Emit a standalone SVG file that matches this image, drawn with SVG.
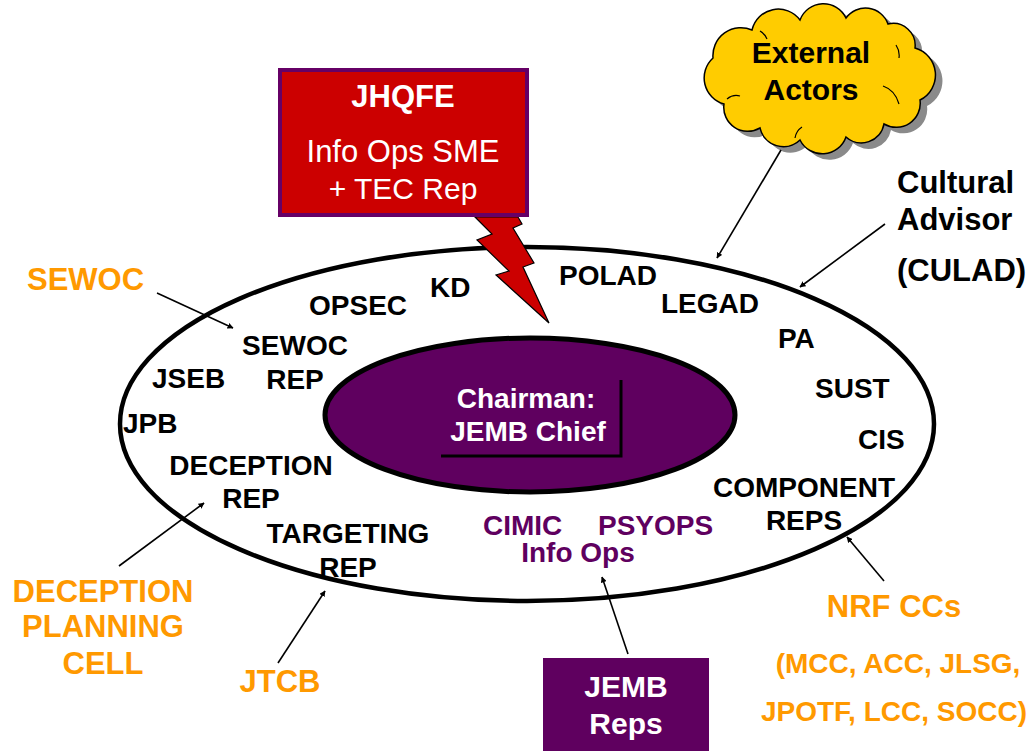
<svg xmlns="http://www.w3.org/2000/svg" width="1034" height="751" viewBox="0 0 1034 751">
  <defs>
    <marker id="arrowhead" viewBox="0 0 10 10" refX="9" refY="5" markerWidth="6" markerHeight="6" markerUnits="userSpaceOnUse" orient="auto">
      <path d="M0,0 L10,5 L0,10 Z" fill="#000"/>
    </marker>
    <path id="cloud-shape" d="M713,58 A28,28 0 0 1 752,30 A27,27 0 0 1 800,20 A25,25 0 0 1 846,18 A24,24 0 0 1 888,24 A22,22 0 0 1 915,48 A28,28 0 0 1 920,100 A24,24 0 0 1 884,124 A23,23 0 0 1 846,137 A25,25 0 0 1 800,140 A24,24 0 0 1 760,128 A24,24 0 0 1 724,104 A27,27 0 0 1 713,58 Z"/>
  </defs>
  <style>
    text { font-family: "Liberation Sans", Arial, sans-serif; font-weight: bold; }
    .lbl { font-size: 28px; fill: #000; }
    .ext { font-size: 31px; fill: #000; }
    .org { font-size: 31px; fill: #FF9900; }
    .org-sm { font-size: 28px; fill: #FF9900; }
    .pur { font-size: 28px; fill: #5F005F; }
    .wht { fill: #fff; }
    .mid { text-anchor: middle; }
    .conn { stroke: #000; stroke-width: 1.6; fill: none; marker-end: url(#arrowhead); }
  </style>

  <rect width="1034" height="751" fill="#fff"/>

  <!-- outer board ring -->
  <g id="board">
    <ellipse cx="527" cy="424" rx="407" ry="177" fill="#fff" stroke="#000" stroke-width="4.5"/>
  </g>

  <!-- chairman core -->
  <g id="chairman">
    <ellipse cx="530" cy="415" rx="205" ry="77" fill="#5F005F" stroke="#000" stroke-width="5"/>
    <polyline points="441,456 621,456 621,380" fill="none" stroke="#000" stroke-width="3"/>
    <text class="lbl wht mid" x="526" y="408">Chairman:</text>
    <text class="lbl wht mid" x="528" y="441">JEMB Chief</text>
  </g>

  <!-- members inside the board -->
  <g id="opsec"><text class="lbl" x="309" y="315">OPSEC</text></g>
  <g id="kd"><text class="lbl" x="430" y="297">KD</text></g>
  <g id="polad"><text class="lbl" x="559" y="285">POLAD</text></g>
  <g id="legad"><text class="lbl" x="661" y="313">LEGAD</text></g>
  <g id="pa"><text class="lbl" x="778" y="348">PA</text></g>
  <g id="sust"><text class="lbl" x="815" y="398">SUST</text></g>
  <g id="cis"><text class="lbl" x="858" y="449">CIS</text></g>
  <g id="component-reps">
    <text class="lbl mid" x="804" y="497">COMPONENT</text>
    <text class="lbl mid" x="804" y="530">REPS</text>
  </g>
  <g id="sewoc-rep">
    <text class="lbl mid" x="295" y="355">SEWOC</text>
    <text class="lbl mid" x="295" y="389">REP</text>
  </g>
  <g id="jseb"><text class="lbl" x="152" y="388">JSEB</text></g>
  <g id="jpb"><text class="lbl" x="123" y="433">JPB</text></g>
  <g id="deception-rep">
    <text class="lbl mid" x="251" y="475">DECEPTION</text>
    <text class="lbl mid" x="251" y="508">REP</text>
  </g>
  <g id="targeting-rep">
    <text class="lbl mid" x="348" y="543">TARGETING</text>
    <text class="lbl mid" x="348" y="577">REP</text>
  </g>
  <g id="info-ops">
    <text class="pur" x="483" y="535">CIMIC</text>
    <text class="pur" x="598" y="535">PSYOPS</text>
    <text class="pur mid" x="578" y="562">Info Ops</text>
  </g>

  <!-- JHQFE with its lightning link -->
  <g id="jhqfe">
    <polygon points="475,217 492,234 477,240 509,271 496,275 549,323 523,267 534,263 513,228 522,224 518,217" fill="#CC0000" stroke="#000" stroke-width="1.2" stroke-linejoin="miter"/>
    <rect x="280" y="70" width="247" height="145" fill="#CC0000" stroke="#660066" stroke-width="4"/>
    <text class="wht mid" x="403" y="107" style="font-size:31px">JHQFE</text>
    <text class="wht mid" x="403" y="162" style="font-size:31px;font-weight:normal">Info Ops SME</text>
    <text class="wht mid" x="403" y="199" style="font-size:30px;font-weight:normal">+ TEC Rep</text>
  </g>

  <!-- external actors cloud -->
  <g id="external-actors">
    <use href="#cloud-shape" transform="translate(7,6)" fill="#8a8a8a"/>
    <use href="#cloud-shape" fill="#FFCC00" stroke="#000" stroke-width="1.5"/>
    <path d="M727,99 q6,-5 13,-3 M795,138 q1,-7 7,-11 M883,86 q12,4 16,18 M896,45 q4,6 3,13 M760,31 q5,3 7,8" fill="none" stroke="#000" stroke-width="1.2"/>
    <text class="mid" x="811" y="63" style="font-size:30px">External</text>
    <text class="mid" x="811" y="100" style="font-size:30px">Actors</text>
  </g>

  <!-- outside bodies -->
  <g id="cultural-advisor">
    <text class="ext" x="897" y="193">Cultural</text>
    <text class="ext" x="897" y="230">Advisor</text>
    <text class="ext" x="897" y="281">(CULAD)</text>
  </g>
  <g id="sewoc"><text class="org" x="27" y="290">SEWOC</text></g>
  <g id="deception-planning-cell">
    <text class="org mid" x="103" y="602">DECEPTION</text>
    <text class="org mid" x="103" y="637">PLANNING</text>
    <text class="org mid" x="103" y="674">CELL</text>
  </g>
  <g id="jtcb"><text class="org mid" x="280" y="692">JTCB</text></g>
  <g id="nrf-ccs">
    <text class="org mid" x="894" y="617">NRF CCs</text>
    <text class="org-sm mid" x="898" y="673">(MCC, ACC, JLSG,</text>
    <text class="org-sm mid" x="894" y="721">JPOTF, LCC, SOCC)</text>
  </g>
  <g id="jemb-reps">
    <rect x="543" y="658" width="166" height="100" fill="#5F005F"/>
    <text class="wht mid" x="626" y="697" style="font-size:30px">JEMB</text>
    <text class="wht mid" x="626" y="734" style="font-size:30px">Reps</text>
  </g>

  <!-- connectors -->
  <g id="connectors">
    <line class="conn" x1="781" y1="150" x2="717" y2="258"/>
    <line class="conn" x1="885" y1="224" x2="800" y2="287"/>
    <line class="conn" x1="157" y1="293" x2="233" y2="328"/>
    <line class="conn" x1="119" y1="566" x2="204" y2="503"/>
    <line class="conn" x1="278" y1="663" x2="325" y2="591"/>
    <line class="conn" x1="628" y1="654" x2="602" y2="577"/>
    <line class="conn" x1="884" y1="581" x2="847" y2="537"/>
  </g>
</svg>
